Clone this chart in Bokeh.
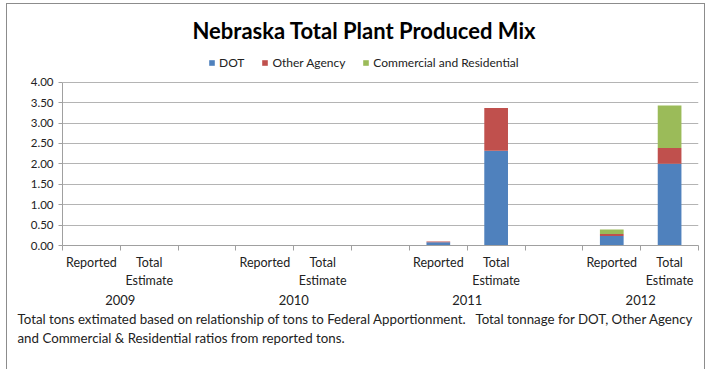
from bokeh.plotting import figure
from bokeh.models import (ColumnDataSource, Range1d, FixedTicker, NumeralTickFormatter,
                          Legend, LegendItem, LinearAxis, Title)
from bokeh.embed import file_html
from bokeh.resources import INLINE

# ---- data ----
years = ["2009", "2010", "2011", "2012"]
bar_labels = ["Reported", "Total\nEstimate"]
series = ["DOT", "Other Agency", "Commercial and Residential"]
colors = ["#4F81BD", "#C0504D", "#9BBB59"]
# order: 2009 Rep, 2009 Tot, 2010 Rep, 2010 Tot, 2011 Rep, 2011 Tot, 2012 Rep, 2012 Tot
dot = [0.0, 0.0, 0.0, 0.0, 0.08, 2.32, 0.23, 2.00]
other_agency = [0.0, 0.0, 0.0, 0.0, 0.02, 1.05, 0.05, 0.39]
commercial = [0.0, 0.0, 0.0, 0.0, 0.0, 0.0, 0.11, 1.04]
y_ticks = [0, 0.5, 1.0, 1.5, 2.0, 2.5, 3.0, 3.5, 4.0]
title = "Nebraska Total Plant Produced Mix"
footnote = ["Total tons extimated based on relationship of tons to Federal Apportionment.\u00a0\u00a0 Total tonnage for DOT, Other Agency",
            "and Commercial & Residential ratios from reported tons."]

# slot positions: each year has 3 slots (Reported, Total, gap)
xpos = []
for i in range(len(years)):
    xpos += [3 * i + 0.5, 3 * i + 1.5]
nslots = 3 * len(years) - 1
boundaries = list(range(0, nslots + 1))
year_pos = [3 * i + 1.0 for i in range(len(years))]

src = ColumnDataSource(dict(x=xpos, DOT=dot, Other=other_agency, Comm=commercial))

FONT = "Lato"
TXT = "#222222"
GRAY = "#a0a0a0"
W, H = 699, 366
p = figure(width=W, height=H, output_backend="svg", toolbar_location=None,
           x_range=Range1d(0, nslots), y_range=Range1d(0, 4.8),
           min_border_left=55, min_border_right=8, min_border_top=45, min_border_bottom=125,
           x_axis_location=None)
p.styles = {"border-left": "1px solid #8c8c8c", "border-top": "1px solid #8c8c8c",
            "border-right": "1px solid #8c8c8c", "margin-left": "6px", "margin-top": "3px"}
p.outline_line_color = None
p.background_fill_color = "white"
p.border_fill_color = "white"

rs = p.vbar_stack(["DOT", "Other", "Comm"], x="x", width=0.41, source=src,
                  color=colors, line_color=None)

# y axis
p.yaxis.ticker = FixedTicker(ticks=y_ticks)
p.yaxis.bounds = (0, 4)
p.yaxis.formatter = NumeralTickFormatter(format="0.00")
p.yaxis.major_label_text_font = FONT
p.yaxis.major_label_text_font_size = "11.5px"
p.yaxis.major_label_text_color = TXT
p.yaxis.axis_line_color = GRAY
p.yaxis.major_tick_line_color = GRAY
p.yaxis.major_tick_in = 0
p.yaxis.major_tick_out = 4
p.yaxis.minor_tick_line_color = None
p.yaxis.major_label_standoff = 5

# x axis: category labels at slot centers, boundary tick marks as minor ticks
cat_overrides = {}
for i in range(len(years)):
    cat_overrides[3 * i + 0.5] = bar_labels[0]
    cat_overrides[3 * i + 1.5] = bar_labels[1]
xax = LinearAxis(ticker=FixedTicker(ticks=xpos, minor_ticks=boundaries),
                 major_label_overrides=cat_overrides,
                 axis_line_color=GRAY, major_tick_line_color=None,
                 major_tick_in=0, major_tick_out=0,
                 minor_tick_line_color=GRAY, minor_tick_in=0, minor_tick_out=5,
                 major_label_text_font=FONT, major_label_text_font_size="12.5px",
                 major_label_text_color=TXT, major_label_standoff=4)
p.add_layout(xax, "below")

yr_ax = LinearAxis(ticker=FixedTicker(ticks=year_pos, minor_ticks=[]),
                   major_label_overrides={year_pos[i]: years[i] for i in range(len(years))},
                   axis_line_color=None, major_tick_line_color=None,
                   major_tick_in=0, major_tick_out=0, minor_tick_line_color=None,
                   major_label_text_font=FONT, major_label_text_font_size="13px",
                   major_label_text_color=TXT, major_label_standoff=4)
p.add_layout(yr_ax, "below")

for k, line in enumerate(footnote):
    p.add_layout(Title(text=line, align="left", offset=-45, text_font=FONT,
                       text_font_size="13.3px", text_font_style="normal",
                       text_color=TXT, standoff=2 if k == 0 else 0), "below")

p.xgrid.grid_line_color = None
p.ygrid.ticker = FixedTicker(ticks=y_ticks)
p.ygrid.grid_line_color = "#b4b4b4"
p.ygrid.grid_line_width = 1

# legend inside the (extended) frame, above the 4.00 line
legend = Legend(items=[LegendItem(label=s, renderers=[r]) for s, r in zip(series, rs)],
                orientation="horizontal", location=(146, 175),
                label_text_font=FONT, label_text_font_size="12px", label_text_color=TXT,
                glyph_width=7, glyph_height=7, label_standoff=4, spacing=17,
                padding=0, margin=0, border_line_color=None, background_fill_alpha=0)
p.add_layout(legend, "center")

p.title.text = title
p.title.align = "left"
p.title.offset = 130
p.title.text_font = FONT
p.title.text_font_size = "22px"
p.title.text_font_style = "bold"
p.title.text_color = "#000000"
p.title.standoff = 11

open("out.html", "w").write(file_html(p, INLINE))
